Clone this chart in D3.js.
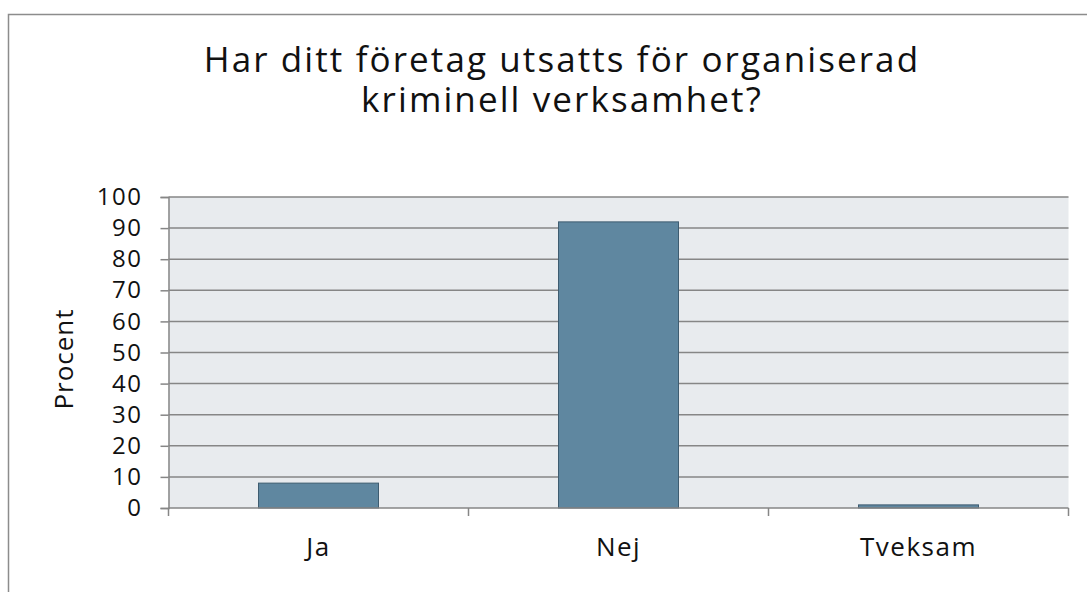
<!DOCTYPE html>
<html>
<head>
<meta charset="utf-8">
<script src="https://cdn.jsdelivr.net/npm/d3@7"></script>
<style>
  body { margin: 0; background: #fff; }
  text { font-family: "Open Sans", sans-serif; fill: #111; }
</style>
</head>
<body>
<script>
// Chart data
const categories = ["Ja", "Nej", "Tveksam"];
const values = [8, 92, 1];
const yTicks = [0, 10, 20, 30, 40, 50, 60, 70, 80, 90, 100];
const titleLines = ["Har ditt företag utsatts för organiserad", "kriminell verksamhet?"];

var width = 1087, height = 592;
var plot = {left: 168.5, right: 1068.5, top: 197, bottom: 508};

var svg = d3.select("body").append("svg")
    .attr("width", width)
    .attr("height", height);

// Outer frame
svg.append("rect")
    .attr("x", 8.5).attr("y", 14.5)
    .attr("width", 1100).attr("height", 600)
    .attr("fill", "none")
    .attr("stroke", "#8c8c8c")
    .attr("stroke-width", 1.5);

// Title, one text per line
svg.selectAll(".title").data(titleLines)
    .enter().append("text")
    .attr("class", "title")
    .attr("x", 562)
    .attr("y", (d, i) => 72 + i * 40)
    .attr("text-anchor", "middle")
    .attr("font-size", 35)
    .attr("letter-spacing", 2.1)
    .text(d => d);

// Scales
var x = d3.scaleBand()
    .domain(categories)
    .range([plot.left, plot.right])
    .paddingInner(0.6)
    .paddingOuter(0.3);

var xOuter = d3.scaleBand()
    .domain(categories)
    .range([plot.left, plot.right]);

var y = d3.scaleLinear().domain([0, 100]).range([plot.bottom, plot.top]);

// Plot background
svg.append("rect")
    .attr("x", plot.left).attr("y", plot.top)
    .attr("width", plot.right - plot.left)
    .attr("height", plot.bottom - plot.top)
    .attr("fill", "#e8ebee");

// Gridlines
svg.append("g")
    .selectAll("line").data(yTicks.filter(t => t > 0))
    .enter().append("line")
    .attr("x1", plot.left).attr("x2", plot.right)
    .attr("y1", d => y(d)).attr("y2", d => y(d))
    .attr("stroke", "#868686")
    .attr("stroke-width", 1.5);

// Bars
svg.append("g")
    .selectAll("rect").data(values)
    .enter().append("rect")
    .attr("x", (d, i) => x(categories[i]))
    .attr("y", d => y(d))
    .attr("width", x.bandwidth())
    .attr("height", d => y(0) - y(d))
    .attr("fill", "#5f87a0")
    .attr("stroke", "#3e5c70")
    .attr("stroke-width", 1);

// Y axis
var yAxis = d3.axisLeft(y).tickValues(yTicks).tickSize(8).tickPadding(18);
var gy = svg.append("g")
    .attr("transform", `translate(${plot.left},0)`)
    .call(yAxis);
gy.select(".domain").attr("stroke", "#868686").attr("stroke-width", 1.5);
gy.selectAll(".tick line").attr("stroke", "#868686").attr("stroke-width", 1.5);
gy.selectAll(".tick text")
    .attr("font-size", 24)
    .attr("letter-spacing", 1.5)
    .attr("font-family", "Open Sans, sans-serif")
    .attr("fill", "#111");

// X axis (ticks at category boundaries)
var gx = svg.append("g")
    .attr("transform", `translate(0,${plot.bottom})`);
gx.append("line")
    .attr("x1", plot.left).attr("x2", plot.right)
    .attr("stroke", "#868686").attr("stroke-width", 1.5);
gx.selectAll(".bound").data(categories)
    .enter().append("line")
    .attr("class", "bound")
    .attr("x1", d => xOuter(d) + xOuter.bandwidth())
    .attr("x2", d => xOuter(d) + xOuter.bandwidth())
    .attr("y1", 0).attr("y2", 8)
    .attr("stroke", "#868686").attr("stroke-width", 1.5);
gx.append("line")
    .attr("x1", plot.left).attr("x2", plot.left)
    .attr("y1", 0).attr("y2", 8)
    .attr("stroke", "#868686").attr("stroke-width", 1.5);
gx.selectAll(".lbl").data(categories)
    .enter().append("text")
    .attr("class", "lbl")
    .attr("x", d => xOuter(d) + xOuter.bandwidth() / 2)
    .attr("y", 48)
    .attr("text-anchor", "middle")
    .attr("font-size", 26)
    .attr("letter-spacing", 1.5)
    .text(d => d);

// Y axis title
svg.append("text")
    .attr("transform", "translate(73,359) rotate(-90)")
    .attr("text-anchor", "middle")
    .attr("font-size", 26)
    .attr("letter-spacing", 1)
    .text("Procent");
</script>
</body>
</html>
